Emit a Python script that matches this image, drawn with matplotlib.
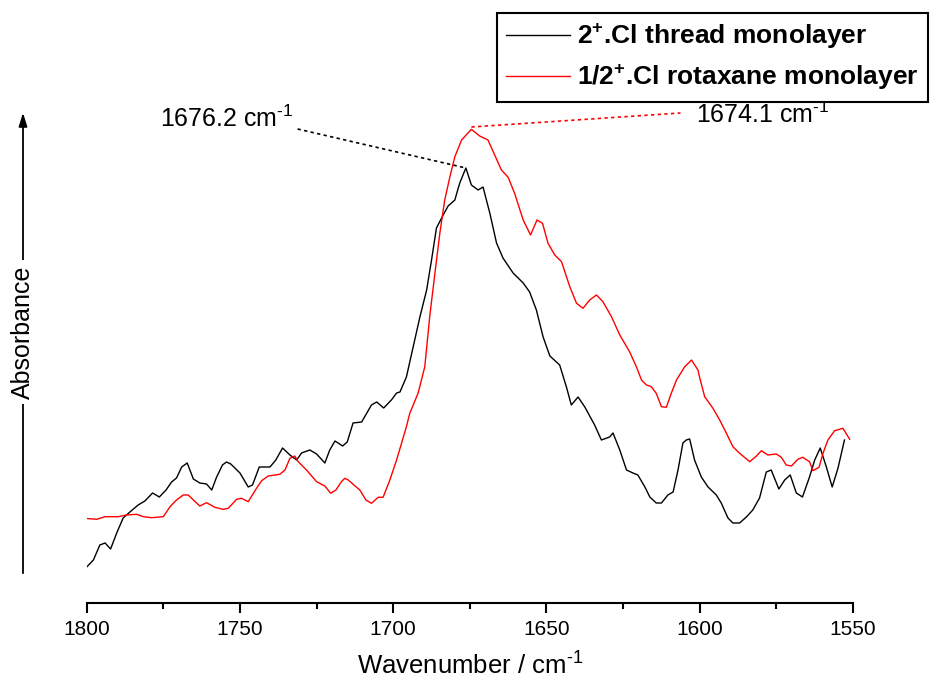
import numpy as np
import matplotlib
matplotlib.use("Agg")
import matplotlib.pyplot as plt

plt.rcParams['font.family'] = ['Liberation Sans', 'DejaVu Sans']
plt.rcParams['mathtext.fontset'] = 'custom'
plt.rcParams['mathtext.rm'] = 'Liberation Sans'
plt.rcParams['mathtext.default'] = 'regular'

# 2+.Cl thread monolayer (wavenumber / cm-1, absorbance in arbitrary units)
thread_wn = [1800.0, 1797.8, 1795.7, 1794.0, 1792.2, 1790.2, 1788.1, 1785.9, 1783.2, 1781.0,
             1778.5, 1776.3, 1774.1, 1772.3, 1770.7, 1769.0, 1767.2, 1765.2, 1763.1, 1760.9,
             1759.2, 1757.6, 1755.7, 1754.4, 1753.0, 1750.0, 1747.3, 1745.9, 1743.7, 1740.2,
             1738.3, 1736.1, 1733.7, 1731.5, 1729.9, 1727.2, 1725.0, 1722.3, 1720.7, 1719.0,
             1716.5, 1715.0, 1713.1, 1710.3, 1707.1, 1705.4, 1703.1, 1700.6, 1698.9, 1697.8,
             1695.7, 1693.5, 1691.3, 1689.1, 1687.5, 1685.9, 1683.7, 1682.1, 1679.9, 1678.3,
             1676.3, 1674.5, 1672.3, 1670.7, 1668.5, 1666.3, 1664.2, 1660.9, 1657.6, 1655.5,
             1653.3, 1651.1, 1648.9, 1645.7, 1643.5, 1641.9, 1639.7, 1637.5, 1634.3, 1632.1,
             1629.4, 1628.3, 1626.1, 1623.9, 1621.8, 1620.2, 1617.9, 1616.3, 1614.2, 1612.5,
             1610.4, 1608.7, 1607.1, 1605.5, 1604.4, 1603.3, 1601.7, 1599.5, 1597.3, 1594.6,
             1593.0, 1590.8, 1589.2, 1587.0, 1584.8, 1582.7, 1580.5, 1578.3, 1576.7, 1574.2,
             1572.3, 1570.5, 1568.5, 1566.5, 1564.2, 1562.5, 1560.7, 1558.7, 1556.8, 1554.9,
             1552.8]
thread_abs = [0.36, 0.43, 0.58, 0.60, 0.54, 0.70, 0.85, 0.91, 0.98, 1.02,
              1.10, 1.06, 1.13, 1.21, 1.25, 1.36, 1.40, 1.24, 1.20, 1.19,
              1.13, 1.26, 1.38, 1.41, 1.39, 1.30, 1.16, 1.18, 1.36, 1.36,
              1.43, 1.55, 1.48, 1.43, 1.50, 1.53, 1.49, 1.40, 1.53, 1.62,
              1.57, 1.61, 1.80, 1.81, 1.98, 2.01, 1.95, 2.03, 2.10, 2.11,
              2.26, 2.56, 2.86, 3.13, 3.43, 3.75, 3.88, 3.97, 4.03, 4.20,
              4.35, 4.18, 4.13, 4.16, 3.90, 3.60, 3.45, 3.30, 3.20, 3.11,
              2.93, 2.66, 2.47, 2.38, 2.16, 1.98, 2.06, 1.96, 1.78, 1.63,
              1.66, 1.70, 1.53, 1.33, 1.30, 1.28, 1.16, 1.06, 1.00, 1.00,
              1.08, 1.11, 1.33, 1.60, 1.63, 1.64, 1.43, 1.26, 1.16, 1.08,
              1.00, 0.85, 0.80, 0.80, 0.86, 0.93, 1.05, 1.31, 1.33, 1.14,
              1.23, 1.28, 1.10, 1.06, 1.26, 1.43, 1.55, 1.36, 1.16, 1.35,
              1.63]

# 1/2+.Cl rotaxane monolayer
rotax_wn = [1800.0, 1796.7, 1794.0, 1789.7, 1787.0, 1783.7, 1781.5, 1778.8, 1775.0, 1772.8,
            1770.7, 1768.5, 1766.9, 1765.2, 1763.1, 1760.9, 1758.2, 1755.5, 1753.8, 1751.1,
            1749.5, 1747.3, 1744.6, 1742.9, 1740.8, 1737.0, 1735.3, 1733.7, 1732.1, 1731.0,
            1728.3, 1725.0, 1722.3, 1720.4, 1718.7, 1716.9, 1715.8, 1714.7, 1710.9, 1708.9,
            1707.1, 1704.9, 1703.3, 1701.1, 1698.9, 1695.7, 1694.6, 1691.9, 1689.7, 1688.1,
            1686.4, 1684.8, 1683.2, 1681.5, 1679.9, 1677.7, 1674.5, 1671.8, 1669.1, 1666.9,
            1664.7, 1662.5, 1660.4, 1657.6, 1655.2, 1653.1, 1651.3, 1649.5, 1647.3, 1645.1,
            1642.4, 1640.2, 1638.1, 1635.9, 1633.7, 1631.6, 1628.8, 1626.1, 1622.9, 1620.7,
            1619.0, 1617.4, 1615.8, 1614.2, 1612.5, 1610.9, 1609.3, 1607.6, 1604.9, 1602.7,
            1600.6, 1600.0, 1598.4, 1595.7, 1593.5, 1591.3, 1589.2, 1587.0, 1583.7, 1581.5,
            1579.9, 1577.8, 1575.0, 1573.4, 1571.8, 1570.1, 1568.0, 1566.4, 1564.2, 1563.1,
            1561.1, 1559.8, 1558.2, 1556.0, 1553.3, 1551.1]
rotax_abs = [0.845, 0.837, 0.863, 0.863, 0.88, 0.887, 0.863, 0.853, 0.863, 0.963,
             1.03, 1.08, 1.08, 1.03, 0.97, 1.003, 0.957, 0.937, 0.947, 1.037,
             1.047, 1.013, 1.147, 1.223, 1.27, 1.287, 1.33, 1.447, 1.47, 1.413,
             1.33, 1.213, 1.17, 1.097, 1.13, 1.213, 1.247, 1.23, 1.13, 1.03,
             0.997, 1.057, 1.057, 1.23, 1.43, 1.763, 1.897, 2.097, 2.363, 2.863,
             3.297, 3.697, 4.03, 4.263, 4.463, 4.63, 4.737, 4.67, 4.63, 4.48,
             4.33, 4.257, 4.097, 3.83, 3.68, 3.83, 3.797, 3.597, 3.48, 3.413,
             3.163, 2.997, 2.947, 3.03, 3.08, 3.013, 2.863, 2.68, 2.513, 2.363,
             2.23, 2.18, 2.163, 2.097, 1.963, 1.957, 2.097, 2.23, 2.363, 2.43,
             2.33, 2.25, 2.063, 1.947, 1.83, 1.697, 1.563, 1.497, 1.413, 1.47,
             1.523, 1.48, 1.49, 1.457, 1.38, 1.37, 1.437, 1.457, 1.413, 1.323,
             1.357, 1.497, 1.63, 1.723, 1.747, 1.637]

series_labels = ['2$^{+}$.Cl thread monolayer', '1/2$^{+}$.Cl rotaxane monolayer']
peak_labels = ['1676.2 cm$^{\\text{-}1}$', '1674.1 cm$^{\\text{-}1}$']
x_ticks = [1800, 1750, 1700, 1650, 1600, 1550]

fig = plt.figure(figsize=(9.37, 6.9), dpi=100)
ax = fig.add_axes([0.0925, 0.1261, 0.8179, 0.8739])

ax.plot(thread_wn, thread_abs, color='black', lw=1.0, label=series_labels[0])
ax.plot(rotax_wn, rotax_abs, color='red', lw=1.0, label=series_labels[1])

# peak annotations with dotted leader lines
ax.plot([1731.2, 1676.3], [4.74, 4.35], color='black', lw=1.2, ls=(0, (2, 2)))
ax.plot([1674.5, 1606.3], [4.76, 4.90], color='red', lw=1.2, ls=(0, (2, 2)))
ax.text(1776.2, 4.763, peak_labels[0], fontsize=18, ha='left', va='baseline')
ax.text(1601.3, 4.797, peak_labels[1], fontsize=18, ha='left', va='baseline')

ax.set_xlim(1800, 1550)
ax.set_ylim(0, 6.03)
ax.set_xticks(x_ticks)
ax.set_xticks(np.arange(1550, 1801, 25), minor=True)
ax.set_yticks([])
for s in ['left', 'right', 'top']:
    ax.spines[s].set_visible(False)
ax.spines['bottom'].set_linewidth(1.5)
ax.tick_params(axis='x', which='major', direction='out', length=7, width=1.5,
               labelsize=15, pad=5)
ax.tick_params(axis='x', which='minor', direction='out', length=4, width=1.5)
ax.set_xlabel('Wavenumber / cm$^{\\text{-}1}$', fontsize=18.5, labelpad=10)

# y axis drawn as an arrow with the label sitting on it
ax.annotate('', xy=(23, 580), xytext=(23, 114), xycoords='figure pixels',
            textcoords='figure pixels',
            arrowprops=dict(arrowstyle='-|>,head_length=0.8,head_width=0.25',
                            color='black', lw=1.3))
fig.text(23 / 937, 358 / 690, 'Absorbance', rotation=90, fontsize=18,
         ha='center', va='center',
         bbox=dict(facecolor='white', edgecolor='none', pad=4))

leg = fig.legend(loc='upper left', bbox_to_anchor=(497 / 937, 1 - 12.7 / 690),
                 borderaxespad=0, fancybox=False, framealpha=1, edgecolor='black',
                 prop={'size': 19, 'weight': 'bold'}, handlelength=2.4,
                 handletextpad=0.3, borderpad=0.35, labelspacing=0.45)
leg.get_frame().set_linewidth(1.5)

fig.savefig('out.png', dpi=100)
